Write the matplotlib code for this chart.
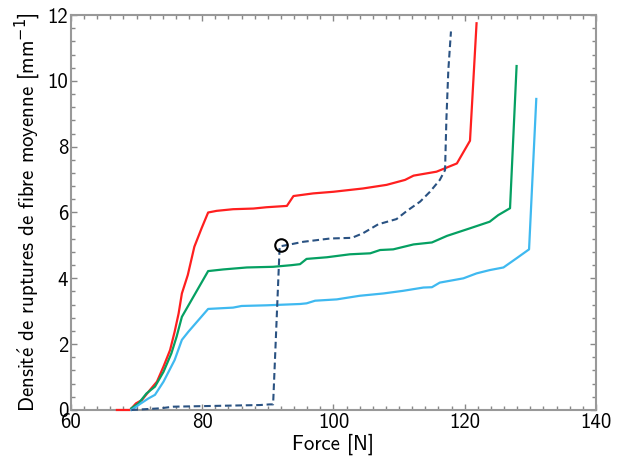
import matplotlib
matplotlib.use("Agg")
import matplotlib.pyplot as plt
from matplotlib.ticker import MultipleLocator

plt.rcParams["font.family"] = ["cmss10", "DejaVu Sans"]
plt.rcParams["mathtext.fontset"] = "custom"
plt.rcParams["mathtext.rm"] = "cmss10"
plt.rcParams["axes.unicode_minus"] = False

# ── Data ─────────────────────────────────────────────────────────────────────
red_f = [67.0, 69.0, 69.9, 70.8, 72.0, 73.1, 74.1, 75.1, 75.8, 76.4, 76.9, 77.8,
         78.8, 79.9, 80.9, 82.2, 84.7, 87.8, 89.8, 92.9, 93.9, 96.9, 100.0,
         104.5, 108.1, 110.9, 112.2, 115.7, 118.8, 120.8, 121.8]
red_d = [0.0, 0.0, 0.2, 0.3, 0.6, 0.86, 1.32, 1.82, 2.38, 2.93, 3.54, 4.1,
         4.96, 5.52, 6.0, 6.05, 6.1, 6.12, 6.16, 6.2, 6.5, 6.58, 6.63,
         6.73, 6.84, 6.99, 7.12, 7.24, 7.49, 8.18, 11.75]

green_f = [69.2, 70.3, 71.5, 72.8, 74.1, 75.3, 76.1, 76.9, 80.9, 83.2, 86.8,
           90.8, 93.6, 94.9, 95.9, 99.0, 102.5, 105.6, 107.1, 109.1, 112.2,
           115.0, 117.3, 120.8, 123.8, 125.1, 126.9, 127.9]
green_d = [0.05, 0.2, 0.5, 0.71, 1.16, 1.72, 2.23, 2.83, 4.22, 4.27, 4.33,
           4.35, 4.4, 4.43, 4.59, 4.64, 4.73, 4.76, 4.86, 4.88, 5.03,
           5.09, 5.29, 5.52, 5.72, 5.92, 6.13, 10.45]

blue_f = [69.2, 70.5, 71.8, 72.8, 74.1, 75.8, 76.9, 77.9, 80.9, 84.7, 86.0,
          89.8, 94.9, 95.9, 97.2, 100.5, 104.0, 107.6, 110.6, 113.7, 115.0,
          116.2, 119.8, 121.8, 123.8, 125.9, 127.9, 129.8, 130.9]
blue_d = [0.0, 0.18, 0.35, 0.46, 0.86, 1.52, 2.13, 2.38, 3.07, 3.11, 3.16,
          3.18, 3.22, 3.24, 3.32, 3.36, 3.47, 3.54, 3.62, 3.72, 3.73,
          3.87, 4.0, 4.15, 4.25, 4.33, 4.61, 4.88, 9.45]

dash_f = [69.2, 73.6, 75.6, 88.8, 90.3, 90.8, 91.8, 92.9, 95.4, 99.5, 102.8,
          104.5, 106.8, 109.6, 111.2, 113.2, 114.7, 116.2, 117.0, 117.2,
          117.5, 117.9]
dash_d = [0.0, 0.05, 0.1, 0.15, 0.17, 0.17, 4.97, 5.01, 5.11, 5.21, 5.23,
          5.37, 5.64, 5.80, 6.05, 6.33, 6.63, 6.99, 7.29, 8.81, 10.33, 11.5]

marker_f = [92.0]
marker_d = [5.0]

# ── Figure ───────────────────────────────────────────────────────────────────
fig = plt.figure(figsize=(6.22, 4.62), dpi=100, facecolor="white")
ax = fig.add_axes([0.1141, 0.1126, 0.8441, 0.8549])

line_kw = dict(lw=1.6, zorder=3, clip_on=False)
ax.plot(red_f, red_d, color="#ff1f1f", **line_kw)
ax.plot(green_f, green_d, color="#05a062", **line_kw)
ax.plot(blue_f, blue_d, color="#3fb9f0", **line_kw)
ax.plot(dash_f, dash_d, color="#2a5282", lw=1.5, ls=(0, (3.2, 1.8)),
        zorder=3, clip_on=False)
ax.plot(marker_f, marker_d, "o", mfc="none", mec="black", mew=1.5, ms=9,
        zorder=4)

ax.set_xlim(60, 140)
ax.set_ylim(0, 12)
ax.xaxis.set_major_locator(MultipleLocator(20))
ax.xaxis.set_minor_locator(MultipleLocator(2))
ax.yaxis.set_major_locator(MultipleLocator(2))
ax.yaxis.set_minor_locator(MultipleLocator(0.4))

for sp in ax.spines.values():
    sp.set_color("#999999")
    sp.set_linewidth(1.5)
ax.tick_params(which="both", direction="in", top=True, right=True,
               color="#888888", labelsize=15, pad=2)
ax.tick_params(which="major", length=4, width=1)
ax.tick_params(which="minor", length=3, width=1)

ax.set_xlabel("Force [N]", fontsize=15, labelpad=1)
ax.set_ylabel(r"Densit$\acute{\mathrm{e}}$ de ruptures de fibre moyenne [mm$^{\mathsf{-1}}$]",
              fontsize=15, labelpad=4)

fig.savefig("out.png", dpi=100, facecolor="white")
